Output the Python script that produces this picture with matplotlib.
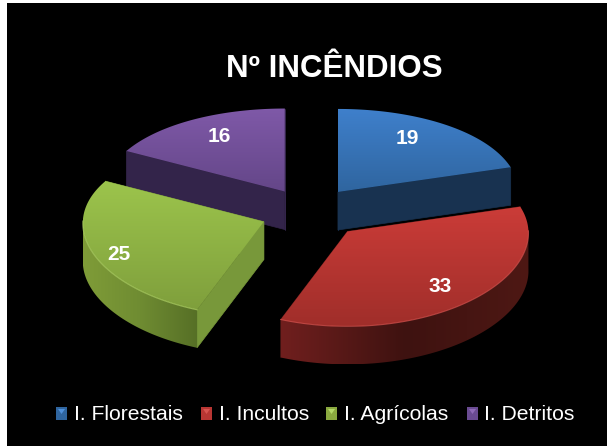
import numpy as np
import matplotlib
matplotlib.use('Agg')
import matplotlib.pyplot as plt
from matplotlib.patches import Polygon, Rectangle
from matplotlib.colors import LinearSegmentedColormap

plt.rcParams['font.family'] = ['Liberation Sans', 'DejaVu Sans']

title = 'Nº INCÊNDIOS'
categories = ['I. Florestais', 'I. Incultos', 'I. Agrícolas', 'I. Detritos']
values = [19, 33, 25, 16]

# estilo de cada fatia
top_colors = [('#3f80cc', '#2f659f'), ('#cb3c38', '#a02e2a'),
              ('#9cc44c', '#7f9f3c'), ('#7f59a8', '#644688')]
rim_colors = [('#1a3555', '#1a3555'), ('#701f1e', '#3e1210', '#4e1814'),
              ('#7f9c38', '#6f8c32', '#566f26'), ('#32244a', '#32244a')]
cut_colors = ['#183250', '#4e1816', '#78983a', '#33244a']
bevel_colors = ['#4f90da', '#d85450', '#b4d868', '#8f6ab8']
legend_colors = ['#2f659f', '#b93633', '#8aa93f', '#6a4b92']

# posicoes em pixeis da imagem
label_xy = [(407, 138), (440, 287), (119, 254), (219, 136)]
legend_marker_x = [56, 201, 326, 467]
legend_text_x = [74, 219, 344, 484]
legend_y = 414

cx, cy = 311, 212
rx, ry = 181, 89
persp_x, persp_y = 0.017, 0.067
explode_x, explode_y = 45, 25
depth = 38
nudge_x = [0, 6, -5, -3]
nudge_y = [0, 1, 1, 1]


def project(t, r, mid, i):
    # t em graus, a partir do topo no sentido horario
    a = np.radians(t)
    X = r * np.sin(a)
    Y = r * np.cos(a)
    m = np.radians(mid)
    x = cx + nudge_x[i] + explode_x * np.sin(m) + rx * X * (1 - persp_x * Y)
    y = cy + nudge_y[i] - explode_y * np.cos(m) - ry * Y * (1 - persp_y * Y)
    return np.column_stack([x, y])


def gradient_fill(ax, pts, colors, horizontal, zorder):
    patch = Polygon(pts, closed=True, fc='none', ec='none', zorder=zorder)
    ax.add_patch(patch)
    cmap = LinearSegmentedColormap.from_list('g', colors)
    ramp = np.linspace(0, 1, 256)
    ramp = ramp[None, :] if horizontal else ramp[:, None]
    x0, y0 = pts.min(axis=0)
    x1, y1 = pts.max(axis=0)
    im = ax.imshow(ramp, cmap=cmap, extent=(x0, x1, y1, y0), aspect='auto',
                   origin='upper', interpolation='bilinear', zorder=zorder)
    im.set_clip_path(patch)


def draw_slice(ax, start, end, i, zorder):
    mid = (start + end) / 2
    ts = np.linspace(start, end, 120)
    arc = project(ts, 1, mid, i)
    apex = project(np.array([mid]), 0, mid, i)
    down = np.array([0, depth])

    # faces do corte
    for edge in (arc[0], arc[-1]):
        face = np.array([apex[0], edge, edge + down, apex[0] + down])
        ax.add_patch(Polygon(face, closed=True, fc=cut_colors[i], ec=cut_colors[i],
                             lw=0.5, zorder=zorder))

    # parede exterior, so a parte da frente
    front = np.cos(np.radians(ts)) < 0.02
    if front.any():
        rim_top = arc[front]
        rim = np.vstack([rim_top, (rim_top + down)[::-1]])
        gradient_fill(ax, rim, rim_colors[i], True, zorder + 0.1)

    # face de cima
    top = np.vstack([apex, arc])
    gradient_fill(ax, top, top_colors[i], False, zorder + 0.2)
    if front.any():
        ax.plot(arc[front, 0], arc[front, 1], color=bevel_colors[i], lw=0.8,
                alpha=0.7, zorder=zorder + 0.3)


def main():
    fig = plt.figure(figsize=(6.07, 4.46), dpi=100, facecolor='white')
    ax = fig.add_axes([0, 0, 1, 1])
    ax.set_axis_off()
    ax.add_patch(Rectangle((7, 3), 600, 443, fc='black', ec='none', zorder=0))

    shares = np.array(values) / sum(values) * 360
    bounds = np.concatenate([[0], np.cumsum(shares)])

    # de tras para a frente
    for z, i in enumerate([3, 0, 2, 1]):
        draw_slice(ax, bounds[i], bounds[i + 1], i, 2 + z)

    for i, v in enumerate(values):
        ax.text(label_xy[i][0], label_xy[i][1], str(v), color='white', fontsize=15,
                fontweight='bold', ha='center', va='center', zorder=10)

    ax.text(334, 69, title, color='white', fontsize=22.5, fontweight='bold',
            ha='center', va='center', zorder=10)

    for i, name in enumerate(categories):
        mx = legend_marker_x[i]
        ax.add_patch(Rectangle((mx, legend_y - 7), 11, 13, fc=legend_colors[i],
                               ec='none', zorder=10))
        ax.add_patch(Polygon([(mx + 2, legend_y - 5), (mx + 9, legend_y - 5),
                              (mx + 5.5, legend_y)], closed=True,
                             fc=bevel_colors[i], ec='none', zorder=11))
        ax.text(legend_text_x[i], legend_y, name, color='white', fontsize=15.2,
                ha='left', va='center', zorder=10)

    ax.set_xlim(0, 607)
    ax.set_ylim(446, 0)
    fig.savefig('out.png', dpi=100, facecolor=fig.get_facecolor())


if __name__ == '__main__':
    main()
